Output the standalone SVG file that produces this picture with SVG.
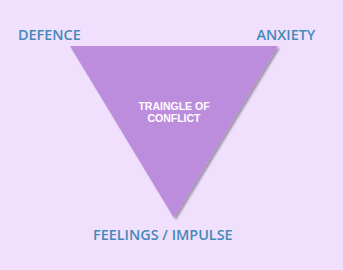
<svg xmlns="http://www.w3.org/2000/svg" width="343" height="270" viewBox="0 0 343 270">
<style>
.lbl{font-family:"Open Sans","DejaVu Sans",sans-serif;font-size:14.4px;font-weight:600;fill:#4589b8}
.ctr{font-family:"Liberation Sans",Arial,sans-serif;font-size:10.5px;font-weight:bold;fill:#ffffff;text-anchor:middle}
</style>
<defs>
<filter id="sh" x="-10%" y="-10%" width="130%" height="130%">
<feGaussianBlur in="SourceAlpha" stdDeviation="1.2"/>
<feOffset dx="1.5" dy="1.5" result="b"/>
<feComponentTransfer><feFuncA type="linear" slope="0.35"/></feComponentTransfer>
<feMerge><feMergeNode/><feMergeNode in="SourceGraphic"/></feMerge>
</filter>
</defs>
<rect width="343" height="270" fill="#f0e0fe"/>
<g id="triangle">
<polygon points="70,46 278,46 174,218" fill="#bd8ddd" filter="url(#sh)"/>
<text class="ctr" x="174" y="109.5"><tspan x="174">TRAINGLE OF</tspan><tspan x="174" dy="12">CONFLICT</tspan></text>
</g>
<g id="defence"><text class="lbl" x="18" y="40">DEFENCE</text></g>
<g id="anxiety"><text class="lbl" x="256.5" y="40">ANXIETY</text></g>
<g id="feelings"><text class="lbl" x="93" y="240">FEELINGS / IMPULSE</text></g>
<g id="connectors"></g>
</svg>
